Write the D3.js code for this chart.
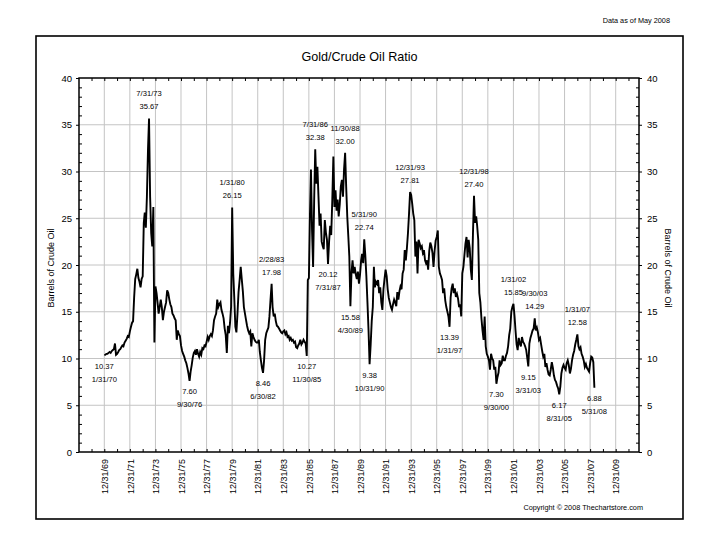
<!DOCTYPE html>
<html>
<head>
<meta charset="utf-8">
<script src="https://cdn.jsdelivr.net/npm/d3@7"></script>
<style>
  body { margin: 0; background: #fff; }
  svg text { font-family: "Liberation Sans", Arial, sans-serif; fill: #000; }
</style>
</head>
<body>
<svg id="chart"></svg>
<script>
// monthly gold / crude oil ratio, Jan 1970 .. May 2008
const ratio1970s = [
  10.37, 10.4, 10.5, 10.5, 10.6, 10.7, 10.6, 10.8, 10.9, 11.0, 11.6, 10.4,
  10.5, 10.7, 10.9, 11.0, 11.2, 11.4, 11.3, 11.7, 11.9, 12.1, 12.4, 12.3,
  12.9, 13.4, 13.8, 14.0, 16.5, 18.5, 19.0, 19.6, 18.6, 18.2, 17.6, 18.5,
  18.8, 24.5, 25.6, 24.0, 27.3, 32.3, 35.67, 27.3, 23.4, 22.0, 26.2, 11.7,
  17.7, 17.0, 16.0, 14.8, 15.5, 16.3, 15.5, 14.1, 15.0, 15.5, 16.0, 17.3,
  17.0, 16.3, 15.8, 15.5, 14.8, 14.6, 14.3, 14.1, 12.0, 13.0, 12.6, 12.4,
  11.4, 10.8, 10.5, 10.2, 9.8, 9.5, 9.0, 8.4, 7.60, 8.6, 9.3, 10.1,
  10.6, 10.8, 10.4, 11.0, 10.5, 10.2, 10.7, 10.4, 11.1, 11.0, 11.4, 11.3,
  11.8, 12.3, 12.0, 12.4, 12.6, 12.4, 13.0, 14.1, 14.5, 14.8, 16.3, 15.5,
  15.8, 16.0, 15.2, 14.8, 14.3, 13.2, 12.5, 10.6, 13.5, 12.7, 13.8, 15.5
]
const ratio1980s = [
  26.15, 19.1, 16.5, 13.4, 12.8, 14.8, 17.1, 18.4, 19.8, 18.5, 17.2, 15.5,
  14.8, 14.1, 13.5, 13.0, 12.7, 12.9, 11.3, 12.7, 12.3, 12.0, 11.8, 11.7,
  11.7, 12.0, 10.7, 9.8, 9.0, 8.46, 9.8, 12.0, 12.7, 13.0, 13.3, 14.5,
  16.3, 17.98, 15.5, 14.5, 14.8, 14.0, 13.5, 13.4, 13.2, 13.0, 12.8, 12.7,
  12.9, 13.0, 12.6, 12.8, 12.3, 12.4, 12.0, 12.2, 11.9, 12.0, 11.7, 11.8,
  11.2, 11.1, 11.4, 11.6, 12.0, 11.5, 11.7, 12.0, 11.8, 11.6, 10.27, 18.4,
  18.6, 25.5, 30.2, 23.7, 19.8, 27.0, 32.38, 28.7, 30.5, 27.4, 24.2, 25.5,
  22.5, 22.0, 21.7, 24.8, 23.5, 22.7, 20.12, 22.5, 24.2, 23.2, 27.0, 31.6,
  26.2, 28.0, 25.8, 27.0, 25.2, 26.5, 28.4, 29.1, 27.3, 30.2, 32.00, 28.4,
  25.2, 23.0, 20.9, 15.58, 19.1, 20.5, 19.1, 19.8, 19.0, 18.5, 19.3, 18.0
]
const ratio1990s = [
  19.0, 20.5, 21.2, 20.2, 22.74, 21.0, 18.8, 16.0, 13.0, 9.38, 11.5, 14.0,
  15.5, 19.8, 17.6, 18.2, 18.0, 18.4, 17.0, 17.6, 16.0, 15.2, 17.4, 18.5,
  19.5, 18.8, 17.4, 16.5, 16.0, 15.5, 15.2, 15.8, 16.3, 16.0, 15.6, 17.1,
  16.3, 17.2, 17.7, 17.4, 19.1, 19.5, 21.6, 20.5, 21.8, 23.4, 25.5, 27.81,
  27.5, 26.5, 25.5, 24.8, 20.9, 22.5, 19.1, 22.7, 22.3, 21.8, 22.0, 21.3,
  21.6, 20.5, 20.2, 20.5, 19.5, 21.5, 22.4, 22.0, 21.3, 19.8, 21.5, 22.6,
  23.0, 23.7, 19.8, 19.1, 18.8, 18.4, 17.0, 17.5, 16.2, 15.5, 15.0, 14.5,
  13.39, 16.5, 17.5, 18.0, 17.0, 17.5, 16.6, 16.9, 16.4, 15.5, 15.8, 14.5,
  19.1, 19.8, 21.0, 22.3, 23.0, 20.8, 22.7, 21.8, 19.5, 18.4, 23.3, 27.40,
  24.5, 25.2, 24.2, 22.7, 17.0, 16.0, 14.3, 13.0, 12.0, 14.5, 11.3, 10.5
]
const ratio2000s = [
  10.2, 9.8, 8.8, 10.5, 10.0, 9.8, 8.8, 9.1, 7.30, 8.0, 8.5, 9.8,
  9.3, 9.5, 10.3, 9.8, 9.8, 10.3, 10.6, 11.3, 12.5, 13.2, 15.0, 15.5,
  15.85, 14.5, 13.0, 11.5, 10.9, 12.2, 11.6, 11.3, 12.3, 11.8, 11.6, 11.3,
  10.9, 10.0, 9.15, 11.6, 12.2, 12.6, 13.0, 13.2, 14.29, 13.0, 13.3, 12.8,
  12.0, 12.2, 11.5, 10.8, 10.2, 10.5, 9.1, 9.5, 8.8, 8.3, 8.2, 8.8,
  9.6, 9.0, 8.2, 7.7, 7.5, 7.1, 6.8, 6.17, 7.0, 8.4, 9.0, 9.3,
  9.0, 8.8, 9.5, 9.8, 9.3, 8.4, 8.9, 9.8, 10.4, 10.8, 11.5, 12.0,
  12.58, 11.3, 11.0, 11.2, 10.5, 10.2, 9.8, 9.1, 9.4, 9.0, 8.8, 8.6,
  9.5, 10.2, 10.1, 9.6, 6.88
]

// labelled highs and lows
const annotDates = ["1/31/70", "7/31/73", "9/30/76", "1/31/80", "6/30/82", "2/28/83", "11/30/85",
  "7/31/86", "7/31/87", "11/30/88", "4/30/89", "5/31/90", "10/31/90", "12/31/93", "1/31/97",
  "12/31/98", "9/30/00", "1/31/02", "3/31/03", "9/30/03", "8/31/05", "1/31/07", "5/31/08"]
const annotValues = [10.37, 35.67, 7.60, 26.15, 8.46, 17.98, 10.27, 32.38, 20.12, 32.00, 15.58,
  22.74, 9.38, 27.81, 13.39, 27.40, 7.30, 15.85, 9.15, 14.29, 6.17, 12.58, 6.88]
const annotSide = ["low", "high", "low", "high", "low", "high", "low", "high", "low", "high", "low",
  "high", "low", "high", "low", "high", "low", "high", "low", "high", "low", "high", "low"]

const xTickLabels = ["12/31/69", "12/31/71", "12/31/73", "12/31/75", "12/31/77", "12/31/79", "12/31/81",
  "12/31/83", "12/31/85", "12/31/87", "12/31/89", "12/31/91", "12/31/93", "12/31/95", "12/31/97",
  "12/31/99", "12/31/01", "12/31/03", "12/31/05", "12/31/07", "12/31/09"]
const yTicks = [0, 5, 10, 15, 20, 25, 30, 35, 40]

const width = 720, height = 557
const margin = {top: 78, right: 81, bottom: 105, left: 79}
const plotW = width - margin.left - margin.right
const plotH = height - margin.top - margin.bottom

const parseShort = s => {
  const [m, d, y] = s.split('/').map(Number)
  return {month: m, day: d, year: y < 50 ? 2000 + y : 1900 + y}
}

const ratio = ratio1970s.concat(ratio1980s, ratio1990s, ratio2000s)
const data = ratio.map((v, i) => ({date: new Date(1970, i, 1), value: v}))

const tickDates = xTickLabels.map(s => {
  const p = parseShort(s)
  return new Date(p.year, p.month - 1, p.day)
})

// 12/31/69 .. 12/31/09 sit at fixed spots inside the frame, domain runs a bit past them
const xRef = d3.scaleTime()
  .domain([tickDates[0], tickDates[tickDates.length - 1]])
  .range([margin.left + 25.3, margin.left + 536.7])
const x = d3.scaleTime()
  .domain([xRef.invert(margin.left), xRef.invert(margin.left + plotW)])
  .range([margin.left, margin.left + plotW])

const y = d3.scaleLinear()
  .domain([0, 40])
  .range([margin.top + plotH, margin.top])

const svg = d3.select('#chart')
  .attr('width', width)
  .attr('height', height)

svg.append('rect')
  .attr('width', width).attr('height', height)
  .attr('fill', '#fff')

// outer frame
svg.append('rect')
  .attr('x', 36).attr('y', 36)
  .attr('width', 647).attr('height', 483)
  .attr('fill', 'none')
  .attr('stroke', '#000')
  .attr('stroke-width', 1.6)

svg.append('text')
  .attr('x', 670).attr('y', 23)
  .attr('text-anchor', 'end')
  .attr('font-size', 7.3)
  .text('Data as of May 2008')

svg.append('text')
  .attr('x', 359.5).attr('y', 60.5)
  .attr('text-anchor', 'middle')
  .attr('font-size', 12.6)
  .text('Gold/Crude Oil Ratio')

svg.append('text')
  .attr('x', 643).attr('y', 509.5)
  .attr('text-anchor', 'end')
  .attr('font-size', 7.3)
  .text('Copyright \u00a9 2008 Thechartstore.com')

// grid
const grid = svg.append('g')
  .attr('stroke', '#c4c4c4')
  .attr('stroke-width', 1)

grid.selectAll('line.v')
  .data(tickDates)
  .join('line')
    .attr('class', 'v')
    .attr('x1', d => x(d)).attr('x2', d => x(d))
    .attr('y1', margin.top).attr('y2', margin.top + plotH)

grid.selectAll('line.h')
  .data(yTicks.slice(1, -1))
  .join('line')
    .attr('class', 'h')
    .attr('x1', margin.left).attr('x2', margin.left + plotW)
    .attr('y1', d => y(d)).attr('y2', d => y(d))

// yearly ticks top and bottom, pointing inward
const yearEnds = d3.range(1967, 2012).map(yr => new Date(yr, 11, 31))
  .filter(d => d >= x.domain()[0] && d <= x.domain()[1])

svg.append('g')
  .attr('transform', 'translate(0,' + (margin.top + plotH) + ')')
  .call(d3.axisBottom(x).tickValues(yearEnds).tickSize(-3).tickFormat(''))
  .call(g => g.select('.domain').remove())

svg.append('g')
  .attr('transform', 'translate(0,' + margin.top + ')')
  .call(d3.axisTop(x).tickValues(yearEnds).tickSize(-3).tickFormat(''))
  .call(g => g.select('.domain').remove())

// rotated date labels
svg.append('g')
  .attr('transform', 'translate(0,' + (margin.top + plotH) + ')')
  .call(d3.axisBottom(x).tickValues(tickDates).tickSize(0).tickFormat((d, i) => xTickLabels[i]))
  .call(g => g.select('.domain').remove())
  .call(g => g.selectAll('text')
    .attr('font-family', '"Liberation Sans", Arial, sans-serif')
    .attr('font-size', 9)
    .attr('transform', 'rotate(-90)')
    .attr('text-anchor', 'end')
    .attr('x', -7)
    .attr('y', 0)
    .attr('dy', '0.35em'))

// y axes: major ticks out, minor ticks in
const minorY = d3.range(1, 40).filter(v => v % 5 !== 0)

const styleY = g => g.call(s => s.select('.domain').remove())
  .call(s => s.selectAll('text')
    .attr('font-family', '"Liberation Sans", Arial, sans-serif')
    .attr('font-size', 9.5))

svg.append('g')
  .attr('transform', 'translate(' + margin.left + ',0)')
  .call(d3.axisLeft(y).tickValues(yTicks).tickSize(3).tickPadding(4))
  .call(styleY)

svg.append('g')
  .attr('transform', 'translate(' + margin.left + ',0)')
  .call(d3.axisLeft(y).tickValues(minorY).tickSize(-3).tickFormat(''))
  .call(g => g.select('.domain').remove())

svg.append('g')
  .attr('transform', 'translate(' + (margin.left + plotW) + ',0)')
  .call(d3.axisRight(y).tickValues(yTicks).tickSize(3).tickPadding(5))
  .call(styleY)

svg.append('g')
  .attr('transform', 'translate(' + (margin.left + plotW) + ',0)')
  .call(d3.axisRight(y).tickValues(minorY).tickSize(-3).tickFormat(''))
  .call(g => g.select('.domain').remove())

svg.append('text')
  .attr('transform', 'translate(54,' + (margin.top + plotH / 2 + 3) + ') rotate(-90)')
  .attr('text-anchor', 'middle')
  .attr('font-size', 9)
  .text('Barrels of Crude Oil')

svg.append('text')
  .attr('transform', 'translate(665,' + (margin.top + plotH / 2 + 3) + ') rotate(90)')
  .attr('text-anchor', 'middle')
  .attr('font-size', 9)
  .text('Barrels of Crude Oil')

// plot border
svg.append('rect')
  .attr('x', margin.left).attr('y', margin.top)
  .attr('width', plotW).attr('height', plotH)
  .attr('fill', 'none')
  .attr('stroke', '#000')
  .attr('stroke-width', 1.5)

// ratio line
const line = d3.line()
  .x(d => x(d.date))
  .y(d => y(d.value))

svg.append('path')
  .datum(data)
  .attr('fill', 'none')
  .attr('stroke', '#000')
  .attr('stroke-width', 1.9)
  .attr('stroke-linejoin', 'miter')
  .attr('d', line)

// annotations
const fmt = d3.format('.2f')
const notes = annotDates.map((s, i) => {
  const p = parseShort(s)
  return {
    date: new Date(p.year, p.month - 1, 1),
    label: s,
    value: annotValues[i],
    side: annotSide[i]
  }
})

const ann = svg.append('g')
  .attr('font-size', 7.6)
  .attr('text-anchor', 'middle')

notes.forEach(n => {
  const px = x(n.date), py = y(n.value)
  const first = n.side === 'high' ? n.label : fmt(n.value)
  const second = n.side === 'high' ? fmt(n.value) : n.label
  const y1 = n.side === 'high' ? py - 22 : py + 13.5
  ann.append('text').attr('x', px).attr('y', y1).text(first)
  ann.append('text').attr('x', px).attr('y', y1 + 13).text(second)
})
</script>
</body>
</html>
